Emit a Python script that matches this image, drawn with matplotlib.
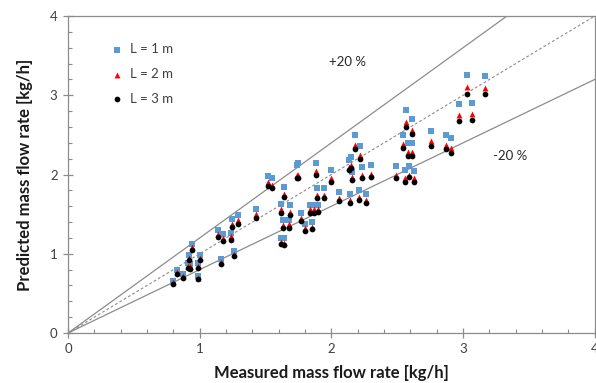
import numpy as np
import matplotlib
matplotlib.use("Agg")
import matplotlib.pyplot as plt

plt.rcParams['font.family'] = ['Lato', 'DejaVu Sans']

# measured mass flow rate [kg/h]
measured = [0.80, 0.83, 0.87, 0.92, 0.94, 0.91, 0.93, 1.00, 0.99, 0.99,
            1.16, 1.14, 1.18, 1.245, 1.24, 1.26, 1.29, 1.43, 1.52, 1.55,
            1.64, 1.62, 1.685, 1.63, 1.68, 1.64, 1.62, 1.77, 1.80, 1.85,
            1.735, 1.75, 1.88, 2.00, 1.89, 1.94, 1.84, 1.87, 1.90, 2.06,
            2.14, 2.21, 2.26, 2.13, 2.15, 2.16, 2.23, 2.30, 2.18, 2.22,
            2.49, 2.545, 2.57, 2.615, 2.56, 2.585, 2.61, 2.59, 2.63, 2.755,
            2.87, 2.91, 2.97, 3.07, 3.03, 3.17]

# predicted mass flow rate [kg/h] for each pipe length
pred_L1 = [0.66, 0.80, 0.75, 0.98, 1.12, 0.88, 0.87, 0.98, 0.88, 0.72,
           0.93, 1.30, 1.245, 1.44, 1.265, 1.04, 1.49, 1.56, 1.985, 1.95,
           1.84, 1.63, 1.61, 1.42, 1.43, 1.195, 1.20, 1.51, 1.38, 1.40,
           2.12, 2.14, 2.14, 2.06, 1.825, 1.825, 1.62, 1.62, 1.62, 1.78,
           1.755, 1.80, 1.76, 2.18, 2.22, 2.03, 2.10, 2.12, 2.50, 2.36,
           2.11, 2.50, 2.81, 2.70, 2.06, 2.40, 2.40, 2.11, 2.05, 2.55,
           2.50, 2.46, 2.89, 2.90, 3.25, 3.24]
pred_L2 = [0.64, 0.77, 0.72, 0.95, 1.08, 0.85, 0.84, 0.95, 0.85, 0.70,
           0.90, 1.25, 1.20, 1.38, 1.22, 1.00, 1.42, 1.50, 1.90, 1.87,
           1.76, 1.56, 1.53, 1.36, 1.37, 1.14, 1.15, 1.45, 1.33, 1.34,
           2.00, 2.00, 2.04, 1.96, 1.74, 1.74, 1.56, 1.56, 1.56, 1.70,
           1.68, 1.72, 1.68, 2.10, 2.12, 1.97, 2.00, 2.01, 2.37, 2.24,
           2.00, 2.38, 2.66, 2.56, 1.96, 2.28, 2.28, 2.00, 1.96, 2.42,
           2.37, 2.33, 2.75, 2.76, 3.10, 3.09]
pred_L3 = [0.62, 0.745, 0.70, 0.92, 1.05, 0.82, 0.81, 0.92, 0.82, 0.685,
           0.87, 1.215, 1.165, 1.34, 1.18, 0.97, 1.38, 1.45, 1.855, 1.825,
           1.71, 1.52, 1.49, 1.325, 1.325, 1.11, 1.12, 1.41, 1.29, 1.31,
           1.95, 1.96, 1.99, 1.91, 1.70, 1.70, 1.52, 1.52, 1.53, 1.66,
           1.64, 1.68, 1.64, 2.06, 2.08, 1.93, 1.95, 1.965, 2.32, 2.19,
           1.95, 2.33, 2.60, 2.51, 1.91, 2.23, 2.23, 1.965, 1.91, 2.36,
           2.32, 2.275, 2.68, 2.69, 3.02, 3.01]

series_labels = ['L = 1 m', 'L = 2 m', 'L = 3 m']
band_factors = [1.2, 1.0, 0.8]

fig = plt.figure(figsize=(5.96, 3.83), dpi=100)
ax = fig.add_axes([0.1141, 0.1305, 0.8839, 0.8277])

# +/-20 % band and 1:1 line
ref_x = np.linspace(0, 4, 2)
ax.plot(ref_x, band_factors[0] * ref_x, color='#8c8c8c', lw=0.9, zorder=1)
ax.plot(ref_x, band_factors[1] * ref_x, color='#8c8c8c', lw=0.8,
        linestyle=(0, (2.5, 2)), zorder=1)
ax.plot(ref_x, band_factors[2] * ref_x, color='#8c8c8c', lw=0.9, zorder=1)

ax.scatter(measured, pred_L1, marker='s', s=15, color='#5b9bd5', lw=0,
           label=series_labels[0], zorder=3)
ax.scatter(measured, pred_L2, marker='^', s=18, color='#ff0000', lw=0,
           label=series_labels[1], zorder=4)
ax.scatter(measured, pred_L3, marker='o', s=17, color='#000000', lw=0,
           label=series_labels[2], zorder=5)

ax.text(2.12, 3.42, '+20 %', fontsize=9.5, color='#262626', ha='center', va='center')
ax.text(3.355, 2.23, '-20 %', fontsize=9.5, color='#262626', ha='center', va='center')

ax.set_xlim(0, 4)
ax.set_ylim(0, 4)
ax.set_xticks([0, 1, 2, 3, 4])
ax.set_yticks([0, 1, 2, 3, 4])
ax.set_xticks(np.arange(0, 4.01, 0.2), minor=True)
ax.set_yticks(np.arange(0, 4.01, 0.2), minor=True)
ax.tick_params(which='major', direction='inout', length=7, width=0.9,
               color='#8c8c8c', labelsize=9.5, labelcolor='#404040', pad=4)
ax.tick_params(which='minor', direction='in', length=3, width=0.8,
               color='#8c8c8c')
for sp in ax.spines.values():
    sp.set_color('#8c8c8c')
    sp.set_linewidth(0.9)

ax.set_xlabel('Measured mass flow rate [kg/h]', fontsize=12,
              fontweight='bold', color='#1a1a1a', labelpad=7)
ax.set_ylabel('Predicted mass flow rate [kg/h]', fontsize=12,
              fontweight='bold', color='#1a1a1a', labelpad=12)

leg = ax.legend(loc='upper left', bbox_to_anchor=(0.07, 0.93), frameon=False,
                fontsize=9.5, handletextpad=0.5, labelspacing=0.95,
                handlelength=1.0, borderaxespad=0)
for t in leg.get_texts():
    t.set_color('#404040')

fig.savefig('out.png', dpi=100)
